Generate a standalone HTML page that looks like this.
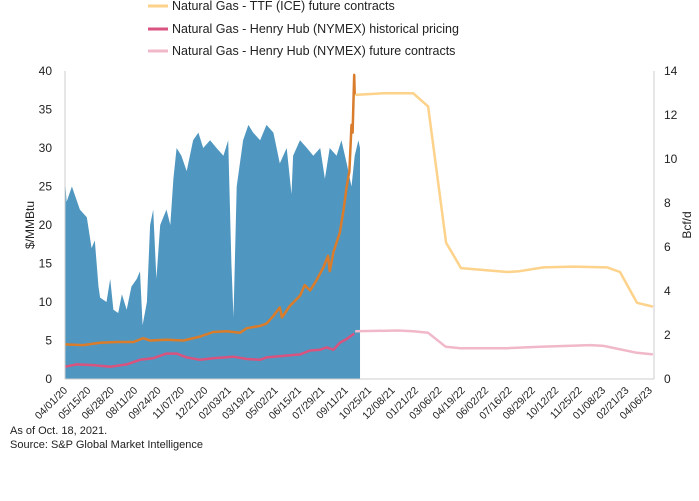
<!DOCTYPE html>
<html><head><meta charset="utf-8"><style>
body{margin:0;background:#fff;font-family:"Liberation Sans",sans-serif;}
svg text{font-family:"Liberation Sans",sans-serif;fill:#222;}
</style></head><body>
<svg id="chart" width="699" height="496" viewBox="0 0 699 496" xmlns="http://www.w3.org/2000/svg">
<g>
<g><line x1="148" y1="6" x2="168" y2="6" stroke="#fdd28a" stroke-width="3"/><text x="172" y="10" font-size="12.5">Natural Gas - TTF (ICE) future contracts</text></g>
<g><line x1="148" y1="29" x2="168" y2="29" stroke="#d9537f" stroke-width="3"/><text x="172" y="33" font-size="12.5">Natural Gas - Henry Hub (NYMEX) historical pricing</text></g>
<g><line x1="148" y1="51" x2="168" y2="51" stroke="#f0b8c8" stroke-width="3"/><text x="172" y="55" font-size="12.5">Natural Gas - Henry Hub (NYMEX) future contracts</text></g>
</g>
<g id="plot"></g>
<text transform="translate(34,225) rotate(-90)" text-anchor="middle" font-size="12">$/MMBtu</text>
<text transform="translate(691,225) rotate(-90)" text-anchor="middle" font-size="12">Bcf/d</text>
<text x="10" y="434" font-size="11">As of Oct. 18, 2021.</text>
<text x="10" y="448" font-size="11">Source: S&amp;P Global Market Intelligence</text>
</svg>
<script>
const blueDays=[0,3,13,28,41,50,56,63,66,78,85,91,100,107,116,125,135,141,146,154,160,166,172,179,185,191,198,204,210,219,229,241,251,260,273,285,298,307,313,317,323,335,345,354,367,379,392,404,417,426,429,442,455,467,480,489,498,511,520,530,539,545,552,555];
const blueVals=[9.1,8.05,8.75,7.7,7.35,5.95,6.3,4.2,3.7,3.5,4.55,3.15,3.0,3.85,3.15,4.2,4.55,4.9,2.45,3.5,7,7.7,4.55,7,7.35,7.7,7,9.1,10.5,10.15,9.45,10.85,11.2,10.5,10.85,10.5,10.15,10.85,5.25,2.8,8.75,10.85,11.55,11.2,10.85,11.55,11.2,9.8,10.5,8.4,10.15,10.85,10.5,10.15,10.5,9.1,10.5,10.15,10.85,9.8,8.75,10.15,10.85,10.5];
const ttfDays=[0,34,66,97,129,147,160,191,223,254,279,304,329,342,367,379,392,404,408,423,442,451,461,473,486,495,498,505,517,524,530,535,539,541,544,545];
const ttfVals=[4.5,4.4,4.7,4.8,4.8,5.3,5.0,5.1,5.0,5.5,6.1,6.2,6.0,6.6,6.9,7.2,8.2,9.3,8.0,9.5,10.8,12.2,11.5,12.8,14.5,16.0,14.0,16.5,19,22,25,27,33,32,39.5,37];
const hhDays=[0,22,53,85,116,141,166,191,210,229,254,279,317,342,367,379,411,442,461,480,492,505,517,530,536,544];
const hhVals=[1.6,1.9,1.8,1.6,1.9,2.5,2.7,3.3,3.3,2.8,2.5,2.7,2.9,2.6,2.5,2.8,3.0,3.2,3.7,3.8,4.1,3.8,4.7,5.2,5.5,5.9];
const ttfFutDays=[546,598,655,683,717,745,832,855,900,956,1020,1044,1076,1106];
const ttfFutVals=[36.9,37.1,37.1,35.4,17.7,14.4,13.9,14.0,14.5,14.6,14.5,13.9,9.9,9.4];
const hhFutDays=[546,626,655,683,716,744,832,894,988,1013,1076,1106];
const hhFutVals=[6.2,6.3,6.2,6.0,4.2,4.0,4.0,4.2,4.4,4.3,3.4,3.2];
const leftTicks=[0,5,10,15,20,25,30,35,40];
const rightTicks=[0,2,4,6,8,10,12,14];
const xLabels=["04/01/20","05/15/20","06/28/20","08/11/20","09/24/20","11/07/20","12/21/20","02/03/21","03/19/21","05/02/21","06/15/21","07/29/21","09/11/21","10/25/21","12/08/21","01/21/22","03/06/22","04/19/22","06/02/22","07/16/22","08/29/22","10/12/22","11/25/22","01/08/23","02/21/23","04/06/23"];

const L=65,R=654,T=71,B=379,DMAX=1108;
const xs=d=>L+d*(R-L)/DMAX;
const yl=v=>B-v*(B-T)/40;
const yr=v=>B-v*(B-T)/14;
const NS="http://www.w3.org/2000/svg";
const plot=document.getElementById('plot');
function mk(tag,attrs){const e=document.createElementNS(NS,tag);for(const k in attrs)e.setAttribute(k,attrs[k]);plot.appendChild(e);return e;}

let d='M'+xs(blueDays[0])+','+B;
blueDays.forEach((dd,i)=>{d+=' L'+xs(dd).toFixed(1)+','+yr(blueVals[i]).toFixed(1);});
d+=' L'+xs(blueDays[blueDays.length-1])+','+B+' Z';
const area=mk('path',{d:d,fill:'#4f97c0'});



function line(days,vals,color,w,name){
  const pts=days.map((dd,i)=>xs(dd).toFixed(1)+','+yl(vals[i]).toFixed(1)).join(' ');
  const p=mk('polyline',{points:pts,fill:'none',stroke:color,'stroke-width':w,'stroke-linejoin':'round'});
  
  
}
line(ttfFutDays,ttfFutVals,'#fdd28a',2.5,'ttf-future-line');
line(hhFutDays,hhFutVals,'#f0b8c8',2.5,'hh-future-line');
line(hhDays,hhVals,'#d9537f',2.5,'hh-historical-line');
line(ttfDays,ttfVals,'#d97c2b',2.5,'ttf-historical-line');

const axL=mk('line',{x1:L,y1:T,x2:L,y2:B,stroke:'#ccc','stroke-width':1});


const axR=mk('line',{x1:R,y1:T,x2:R,y2:B,stroke:'#ccc','stroke-width':1});


const axB=mk('line',{x1:L,y1:B,x2:R,y2:B,stroke:'#ccc','stroke-width':1});



leftTicks.forEach(v=>{const t=mk('text',{x:52,y:yl(v)+4,'text-anchor':'end','font-size':'12'});t.textContent=v;

});
rightTicks.forEach(v=>{const t=mk('text',{x:664,y:yr(v)+4,'font-size':'12'});t.textContent=v;

});
xLabels.forEach((s,i)=>{const x=xs(i*44)+3,y=B+12;
const t=mk('text',{x:x,y:y,'text-anchor':'end','font-size':'10.5',transform:'rotate(-45 '+x+' '+y+')'});t.textContent=s;

});
</script>
</body></html>
